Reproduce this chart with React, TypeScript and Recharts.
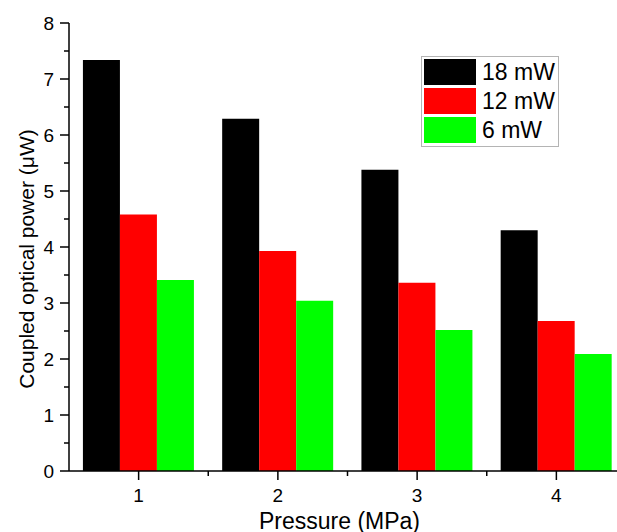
import React from 'react';
import { BarChart, Bar, XAxis, YAxis, Legend } from 'recharts';

const categories = ['1', '2', '3', '4'];
const seriesNames = ['18 mW', '12 mW', '6 mW'];
const power18mW = [7.34, 6.29, 5.38, 4.3];
const power12mW = [4.58, 3.93, 3.36, 2.68];
const power6mW = [3.41, 3.04, 2.52, 2.09];
const yTicks = [0, 0.5, 1, 1.5, 2, 2.5, 3, 3.5, 4, 4.5, 5, 5.5, 6, 6.5, 7, 7.5, 8];
const colors = ['#000000', '#ff0000', '#00ff00'];
const seriesKeys = ['p18', 'p12', 'p6'];

const data = categories.map((c, i) => ({
  cat: c,
  p18: power18mW[i],
  p12: power12mW[i],
  p6: power6mW[i],
}));

const FONT = '"Liberation Sans", Arial, Helvetica, sans-serif';
const CHART_W = 640;
const CHART_H = 532;
const Y_AXIS_W = 69;
const X_AXIS_H = 61;
const MARGIN = { top: 23, right: 14, bottom: 0, left: 0 };
const BAND = (CHART_W - MARGIN.right - MARGIN.left - Y_AXIS_W) / categories.length;

const XTick = (props: any) => {
  const { x, y, payload, index } = props;
  return (
    <g>
      <line x1={x} y1={y} x2={x} y2={y + 9} stroke="#000" strokeWidth={1.5} />
      {index < categories.length - 1 && (
        <line x1={x + BAND / 2} y1={y} x2={x + BAND / 2} y2={y + 5} stroke="#000" strokeWidth={1.5} />
      )}
      <text x={x} y={y + 31} textAnchor="middle" fontSize={19} fontFamily={FONT} fill="#000">
        {payload.value}
      </text>
    </g>
  );
};

const YTick = (props: any) => {
  const { x, y, payload } = props;
  const major = Number.isInteger(payload.value);
  return (
    <g>
      <line x1={x} y1={y} x2={x - (major ? 9 : 5)} y2={y} stroke="#000" strokeWidth={1.5} />
      {major && (
        <text x={x - 15} y={y} dy="0.36em" textAnchor="end" fontSize={19} fontFamily={FONT} fill="#000">
          {payload.value}
        </text>
      )}
    </g>
  );
};

const XLabel = (props: any) => {
  const vb = props.viewBox || {};
  return (
    <text
      x={vb.x + vb.width / 2 - 8}
      y={vb.y + 58}
      textAnchor="middle"
      fontSize={23}
      fontFamily={FONT}
      fill="#000"
    >
      Pressure (MPa)
    </text>
  );
};

const YLabel = (props: any) => {
  const vb = props.viewBox || {};
  const cx = vb.x + 26;
  const cy = vb.y + vb.height / 2 + 12;
  return (
    <text
      x={cx}
      y={cy}
      transform={`rotate(-90, ${cx}, ${cy})`}
      textAnchor="middle"
      dominantBaseline="central"
      fontSize={21}
      fontFamily={FONT}
      fill="#000"
    >
      Coupled optical power (μW)
    </text>
  );
};

const LegendBox = () => (
  <div
    style={{
      width: 138,
      height: 91,
      border: '1px solid #b4b4b4',
      boxSizing: 'border-box',
      background: '#fff',
      padding: '2px 0 0 2px',
      fontFamily: FONT,
    }}
  >
    {seriesNames.map((name, i) => (
      <div key={name} style={{ display: 'flex', alignItems: 'center', height: 26, marginBottom: 3 }}>
        <div style={{ width: 52, height: 26, background: colors[i] }} />
        <span style={{ marginLeft: 6, fontSize: 23, color: '#000', lineHeight: '26px' }}>{name}</span>
      </div>
    ))}
  </div>
);

export default function App() {
  return (
    <div style={{ position: 'absolute', left: 0, top: 0, width: 617, height: 532, overflow: 'hidden', background: '#fff' }}>
      <BarChart
        width={CHART_W}
        height={CHART_H}
        data={data}
        margin={MARGIN}
        barCategoryGap="10%"
        barGap={0}
      >
        <XAxis
          dataKey="cat"
          height={X_AXIS_H}
          interval={0}
          tickSize={0}
          tickMargin={0}
          tickLine={false}
          tick={<XTick />}
          axisLine={{ stroke: '#000', strokeWidth: 1.5 }}
          label={<XLabel />}
        />
        <XAxis
          xAxisId="top"
          dataKey="cat"
          orientation="top"
          height={0}
          tick={false}
          tickLine={false}
          axisLine={{ stroke: '#000', strokeWidth: 1.5 }}
        />
        <YAxis
          width={Y_AXIS_W}
          domain={[0, 8]}
          ticks={yTicks}
          interval={0}
          tickSize={0}
          tickMargin={0}
          tickLine={false}
          tick={<YTick />}
          axisLine={{ stroke: '#000', strokeWidth: 1.5 }}
          label={<YLabel />}
        />
        <Legend
          layout="vertical"
          align="center"
          verticalAlign="middle"
          wrapperStyle={{ left: 421, top: 56, width: 138, height: 91 }}
          content={<LegendBox />}
        />
        {seriesKeys.map((k, i) => (
          <Bar key={k} dataKey={k} name={seriesNames[i]} fill={colors[i]} isAnimationActive={false} />
        ))}
      </BarChart>
    </div>
  );
}
